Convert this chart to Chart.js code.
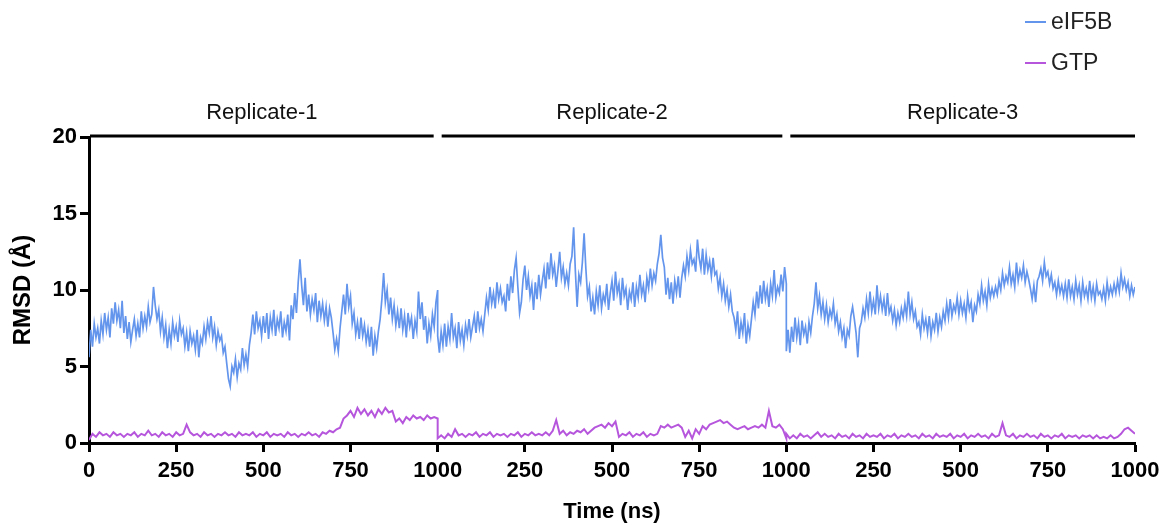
<!DOCTYPE html>
<html>
<head>
<meta charset="utf-8">
<script src="https://cdn.jsdelivr.net/npm/chart.js@4"></script>
<style>
  html, body { margin: 0; padding: 0; background: #fff; }
  #wrap { width: 1163px; height: 525px; }
</style>
</head>
<body>
<div id="wrap"><canvas id="rmsdChart" width="1163" height="525"></canvas></div>
<script>
// sampling inside each replicate (ns), each replicate runs 0..1000
const eif5bStepNs = 5;
const gtpStepNs = 10;
const replicates = ['Replicate-1', 'Replicate-2', 'Replicate-3'];
const xTicks = [0, 250, 500, 750, 1000, 250, 500, 750, 1000, 250, 500, 750, 1000];
const yTicks = [0, 5, 10, 15, 20];

const eif5bRep1 = [
  5.6,7.4,6.3,7.8,6.9,7.5,6.5,8.0,7.1,8.5,7.4,8.2,6.9,8.8,7.8,9.2,8.0,8.7,7.5,9.3,
  7.2,8.3,6.8,7.9,6.6,7.4,8.1,7.0,7.8,6.9,8.6,7.5,8.3,7.6,8.9,7.9,8.4,10.2,9.0,8.1,
  8.7,7.3,8.2,6.9,7.7,6.2,7.4,6.5,7.9,7.0,7.6,6.6,8.0,7.1,7.5,6.3,7.2,6.0,7.3,6.5,
  7.0,6.1,7.4,5.6,6.9,6.5,7.6,6.8,7.9,7.2,8.3,6.9,7.6,6.4,7.3,6.7,7.0,5.9,6.3,5.2,
  4.2,3.7,5.0,4.6,5.5,4.3,5.2,4.8,6.2,5.1,5.8,5.0,6.4,7.2,8.4,7.1,8.6,7.5,8.0,7.0,
  8.3,7.2,8.5,6.8,8.2,7.4,8.7,7.0,8.1,7.5,8.6,6.9,7.9,7.3,8.4,6.7,9.0,8.1,9.8,8.5,
  10.5,12.0,10.3,9.0,10.8,8.6,9.7,8.4,9.4,8.7,9.8,7.9,9.3,8.3,9.1,8.0,8.9,7.6,8.8,8.2,
  7.2,6.1,6.8,6.0,7.5,8.6,9.7,8.4,10.4,8.9,9.6,7.8,8.5,7.1,7.9,6.8,8.2,7.0,7.7,6.6,
  7.4,6.3,7.6,5.7,7.0,6.2,7.3,8.1,9.4,11.1,9.2,10.0,8.4,9.5,8.1,9.0,7.7,8.6,7.5,8.8,
  7.4,8.3,6.9,8.5,7.6,8.2,6.8,8.0,7.3,9.9,8.1,9.2,7.4,8.3,6.5,7.8,7.0,8.4,7.6,9.2,
  10.0];
const eif5bRep2 = [
  7.0,5.9,7.3,6.4,7.8,6.3,7.6,6.8,8.5,6.9,7.5,6.2,7.9,6.7,7.4,6.4,7.7,7.0,8.1,6.9,
  7.6,8.3,7.2,8.6,7.5,8.1,7.3,8.4,9.5,8.7,10.2,9.1,9.8,8.8,10.5,9.4,10.1,9.2,9.6,8.6,
  10.4,9.3,10.9,9.8,11.3,12.1,10.2,8.5,9.2,10.7,11.6,10.0,10.9,9.6,10.3,8.7,10.5,9.4,11.0,9.7,
  10.6,11.4,10.1,11.8,10.7,12.4,11.0,11.6,10.2,11.3,12.5,10.8,11.5,10.4,11.1,10.3,11.7,12.2,14.1,11.2,
  8.9,11.0,10.5,11.8,13.7,11.4,9.6,10.2,8.6,9.5,8.4,9.9,9.0,10.3,8.8,9.7,9.2,10.4,8.7,9.8,
  10.6,9.3,11.2,9.8,10.4,9.0,10.8,9.6,10.1,8.7,9.9,9.4,10.5,8.9,10.2,9.5,11.0,9.7,10.3,9.2,
  10.8,10.1,11.4,10.3,11.1,10.6,11.7,12.4,13.6,12.1,11.5,9.7,10.8,9.4,10.5,9.1,10.6,9.8,10.9,9.5,
  10.8,11.6,10.9,12.2,11.3,12.6,11.7,12.0,11.2,13.3,12.1,11.4,12.7,11.0,12.3,11.3,11.9,10.9,12.1,11.0,
  11.2,10.1,10.8,9.6,10.4,9.3,10.0,8.9,9.7,8.6,8.2,7.4,8.6,6.8,7.9,7.2,8.5,6.5,7.7,7.0,
  8.1,9.2,8.4,9.9,8.8,10.3,9.1,10.6,9.4,10.1,8.9,10.4,9.6,11.3,9.5,10.2,9.8,11.0,9.9,11.5,
  10.4];
const eif5bRep3 = [
  6.0,7.4,5.9,7.6,6.6,8.2,6.9,7.8,6.4,8.0,7.1,7.6,6.5,7.9,7.2,8.3,9.1,10.5,8.8,9.6,
  8.4,9.2,8.1,9.0,7.9,8.7,8.2,9.1,7.8,8.4,7.3,7.9,6.9,7.5,6.2,7.4,7.0,8.3,8.9,8.1,
  7.2,5.6,7.5,7.9,8.8,8.2,9.4,8.5,9.9,8.6,9.3,8.4,10.3,8.8,9.6,8.7,9.4,8.3,9.8,8.5,
  8.9,8.0,8.7,7.7,8.5,7.9,8.8,8.2,9.1,8.3,9.9,8.4,9.2,8.1,8.6,7.6,7.9,7.1,8.4,7.5,
  8.1,7.2,8.3,7.0,7.9,7.4,8.5,7.3,8.2,7.6,8.6,8.0,9.1,8.2,9.4,8.3,9.0,8.6,9.5,8.4,
  9.3,8.5,9.1,8.2,9.6,8.7,9.2,7.9,9.0,8.6,9.7,9.1,10.3,9.3,9.9,9.0,10.4,9.5,10.1,9.6,
  10.2,9.7,10.6,10.0,11.1,10.3,10.9,10.5,11.5,10.4,11.0,10.2,11.8,10.6,11.3,10.8,11.6,10.5,11.2,10.7,
  10.1,9.4,10.3,9.2,10.6,10.9,11.4,10.6,11.8,10.9,11.2,10.4,11.0,10.1,10.5,9.7,10.6,9.8,10.3,9.6,
  10.4,9.5,10.7,9.6,10.2,9.4,10.6,9.7,10.3,9.3,10.5,9.6,10.1,9.4,10.6,9.5,10.2,9.3,10.4,9.7,
  9.9,9.4,10.1,9.3,10.5,9.6,10.2,9.7,10.4,9.8,10.6,9.9,11.1,10.2,10.7,10.0,10.5,9.6,10.3,9.7,
  10.2];

const gtpRep1 = [0.2,0.6,0.4,0.7,0.5,0.6,0.4,0.7,0.5,0.6,0.4,0.6,0.5,0.7,0.4,0.6,0.5,0.8,0.5,0.6,
  0.4,0.7,0.5,0.6,0.4,0.7,0.5,0.6,1.2,0.7,0.5,0.6,0.4,0.7,0.5,0.6,0.4,0.6,0.5,0.7,
  0.5,0.6,0.4,0.7,0.5,0.6,0.5,0.7,0.4,0.6,0.5,0.7,0.4,0.6,0.5,0.6,0.4,0.7,0.5,0.6,
  0.4,0.6,0.5,0.7,0.5,0.6,0.4,0.7,0.6,0.8,0.7,0.9,1.0,1.6,1.8,2.1,1.7,2.3,1.9,2.2,
  1.8,2.1,1.7,2.2,1.9,2.3,2.0,2.1,1.4,1.6,1.3,1.7,1.5,1.8,1.6,1.7,1.5,1.8,1.6,1.7,1.6];
const gtpRep2 = [0.3,0.5,0.3,0.6,0.4,0.9,0.5,0.6,0.4,0.6,0.5,0.7,0.4,0.6,0.5,0.7,0.4,0.6,0.5,0.6,
  0.4,0.6,0.5,0.7,0.4,0.6,0.5,0.7,0.5,0.6,0.5,0.7,0.5,0.8,1.5,0.6,0.8,0.5,0.7,0.6,
  0.8,0.7,0.9,0.6,0.8,1.0,1.1,1.2,1.0,1.3,1.1,1.4,0.4,0.6,0.5,0.7,0.4,0.6,0.5,0.7,
  0.4,0.6,0.5,0.6,1.1,1.0,1.2,1.0,1.1,1.2,1.0,0.4,0.8,0.3,0.9,0.6,1.1,0.9,1.2,1.3,
  1.4,1.5,1.3,1.4,1.2,1.0,0.9,1.0,1.1,0.9,1.0,1.1,1.0,1.2,1.0,2.1,1.1,1.0,1.2,0.9,0.3];
const gtpRep3 = [0.6,0.3,0.5,0.3,0.6,0.4,0.5,0.3,0.5,0.7,0.4,0.6,0.4,0.5,0.3,0.6,0.4,0.5,0.3,0.6,
  0.4,0.5,0.3,0.6,0.4,0.5,0.4,0.6,0.3,0.5,0.4,0.6,0.3,0.5,0.4,0.6,0.4,0.5,0.3,0.6,
  0.4,0.5,0.3,0.6,0.4,0.5,0.4,0.6,0.3,0.5,0.4,0.6,0.3,0.5,0.4,0.6,0.4,0.5,0.3,0.6,
  0.4,0.5,1.3,0.5,0.4,0.6,0.3,0.5,0.4,0.6,0.4,0.5,0.3,0.6,0.4,0.5,0.3,0.5,0.4,0.6,
  0.3,0.5,0.4,0.5,0.3,0.5,0.4,0.5,0.3,0.5,0.3,0.4,0.3,0.5,0.3,0.4,0.6,0.9,1.0,0.8,0.6];

// replicates are laid end to end on one 0..3000 axis
function joinReplicates(reps, step) {
  const pts = [];
  reps.forEach((rep, i) => {
    rep.forEach((v, j) => pts.push({ x: i * 1000 + j * step, y: v }));
  });
  return pts;
}

const FONT = "'Liberation Sans', Arial, sans-serif";
const blue = '#6495ED';
const purple = '#B656DD';

const overlay = {
  id: 'overlay',
  afterDraw(chart) {
    const ctx = chart.ctx;
    const xs = chart.scales.x;
    const top = chart.chartArea.top;
    ctx.save();
    // replicate bars along the top
    replicates.forEach((name, i) => {
      const a = xs.getPixelForValue(i * 1000) + (i === 0 ? 1 : 4);
      const b = xs.getPixelForValue((i + 1) * 1000) - (i === 2 ? 0 : 4);
      ctx.strokeStyle = '#000';
      ctx.lineWidth = 3;
      ctx.beginPath();
      ctx.moveTo(a, top - 1);
      ctx.lineTo(b, top - 1);
      ctx.stroke();
      ctx.fillStyle = '#111';
      ctx.font = '22px ' + FONT;
      ctx.textAlign = 'center';
      ctx.textBaseline = 'middle';
      ctx.fillText(name, (a + b) / 2, 113);
    });
    // legend top right, stacked
    chart.data.datasets.forEach((ds, i) => {
      const y = 22 + i * 41;
      ctx.strokeStyle = ds.borderColor;
      ctx.lineWidth = 2;
      ctx.beginPath();
      ctx.moveTo(1025, y);
      ctx.lineTo(1046, y);
      ctx.stroke();
      ctx.fillStyle = '#222';
      ctx.font = '23px ' + FONT;
      ctx.textAlign = 'left';
      ctx.textBaseline = 'middle';
      ctx.fillText(ds.label, 1051, y + 1);
    });
    ctx.restore();
  }
};

new Chart(document.getElementById('rmsdChart').getContext('2d'), {
  type: 'line',
  data: {
    datasets: [
      { label: 'eIF5B', data: joinReplicates([eif5bRep1, eif5bRep2, eif5bRep3], eif5bStepNs),
        borderColor: blue, borderWidth: 1.7, pointRadius: 0, tension: 0 },
      { label: 'GTP', data: joinReplicates([gtpRep1, gtpRep2, gtpRep3], gtpStepNs),
        borderColor: purple, borderWidth: 2, pointRadius: 0, tension: 0 }
    ]
  },
  options: {
    responsive: false,
    animation: false,
    layout: { padding: { top: 137, right: 28, left: 0, bottom: 0 } },
    plugins: { legend: { display: false }, tooltip: { enabled: false } },
    scales: {
      x: {
        type: 'linear', min: 0, max: 3000,
        afterFit: s => { s.height = 82; s.paddingRight = 0; s.paddingLeft = 0; },
        afterBuildTicks: s => { s.ticks = xTicks.map((_, i) => ({ value: i * 250 })); },
        ticks: {
          autoSkip: false, maxRotation: 0, color: '#000', padding: 6,
          font: { family: FONT, size: 22, weight: 'bold' },
          callback: (v, i) => String(xTicks[i])
        },
        grid: { display: true, drawOnChartArea: false, tickLength: 9, tickWidth: 3, tickColor: '#000' },
        border: { display: true, width: 3, color: '#000' },
        title: { display: true, text: 'Time (ns)', color: '#000', padding: { top: 2, bottom: 0 },
          font: { family: FONT, size: 22, weight: 'bold' } }
      },
      y: {
        min: 0, max: 20,
        afterFit: s => { s.width = 89; s.paddingTop = 0; s.paddingBottom = 0; },
        afterBuildTicks: s => { s.ticks = yTicks.map(v => ({ value: v })); },
        ticks: { color: '#000', padding: 3, font: { family: FONT, size: 22, weight: 'bold' } },
        grid: { display: true, drawOnChartArea: false, tickLength: 9, tickWidth: 3, tickColor: '#000' },
        border: { display: true, width: 3, color: '#000' },
        title: { display: true, text: 'RMSD (Å)', color: '#000', padding: { top: 9, bottom: 4 },
          font: { family: FONT, size: 24, weight: 'bold' } }
      }
    }
  },
  plugins: [overlay]
});
</script>
</body>
</html>
